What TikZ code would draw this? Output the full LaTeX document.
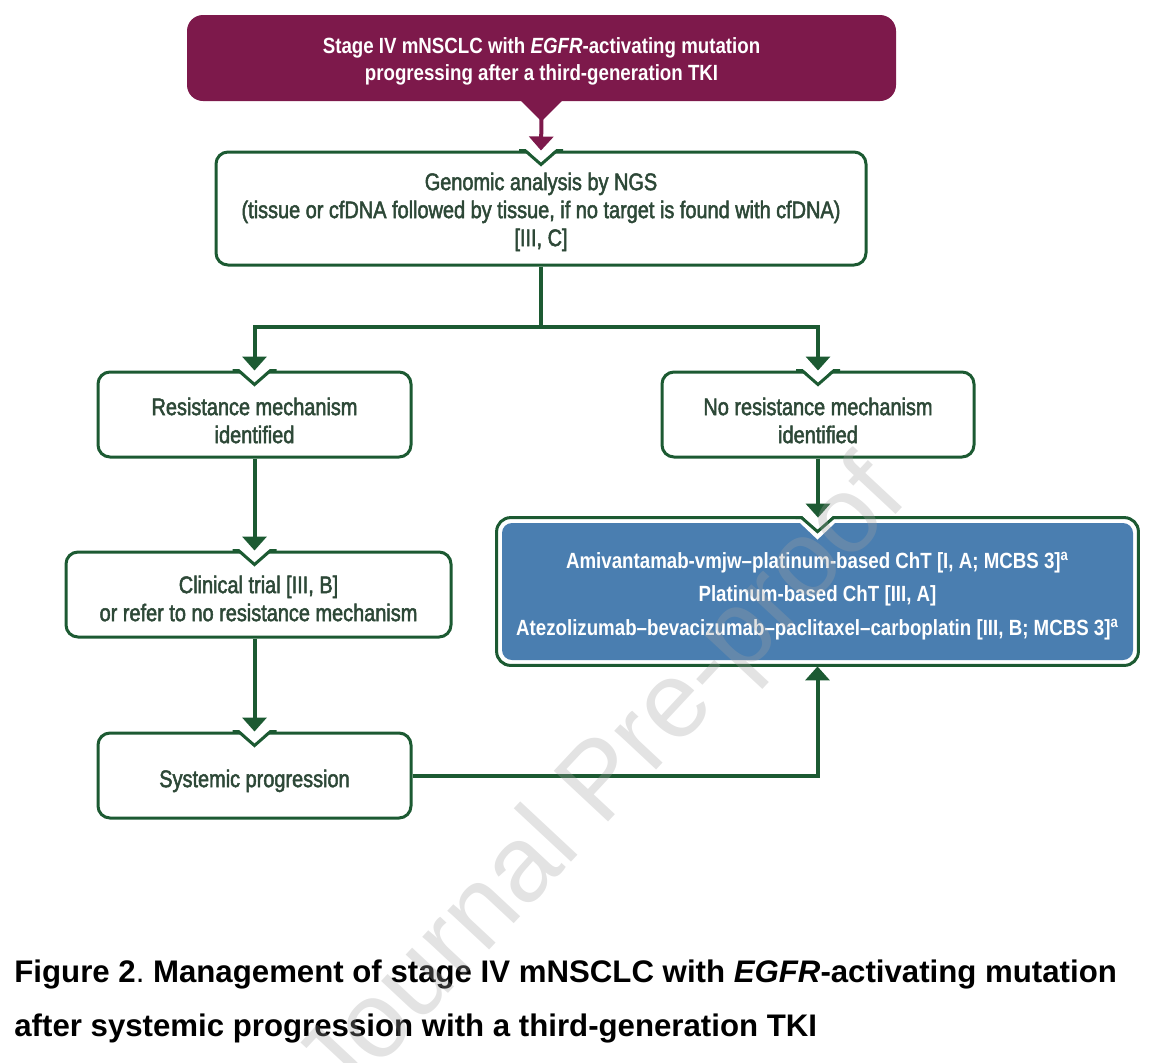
\documentclass[tikz,border=0pt]{standalone}
\usepackage{fontspec}
\setmainfont{Liberation Sans}
\newfontfamily\cond[FakeStretch=0.85]{Liberation Sans}
\newfontfamily\condm[FakeStretch=0.83,FakeBold=2]{Liberation Sans}
\usetikzlibrary{arrows.meta,calc}
\definecolor{gr}{RGB}{28,90,50}
\definecolor{mar}{RGB}{125,25,75}
\definecolor{blu}{RGB}{74,126,176}
\definecolor{txt}{RGB}{45,72,55}
\newcommand{\lines}[2][0pt]{\raisebox{-#1}[\height][\depth]{\begin{tabular}{@{}c@{}}#2\end{tabular}}}
\tikzset{
  wbox/.style={draw=gr, line width=1.5pt, fill=white, rounded corners=6pt, inner sep=0pt,
    align=center, text=txt, font=\condm\fontsize{12}{14}\selectfont},
  glink/.style={draw=gr, line width=2pt},
  arr/.style={glink, -{Triangle[width=12pt,length=7pt]}},
  marr/.style={draw=mar, line width=2pt, -{Triangle[width=12pt,length=7pt]}},
  wtext/.style={text=white, align=center, font=\cond\bfseries\fontsize{11}{13.5}\selectfont},
}
\newcommand{\mynotch}[1]{%
  \fill[white] ($(#1)+(-17,-3)$) -- ($(#1)+(17,-3)$) -- ($(#1)+(0,12)$) -- cycle;
  \draw[gr, line width=1.5pt, line join=miter] ($(#1)+(-22,0)$) -- ($(#1)+(-16,0)$) -- ($(#1)+(0,14)$) -- ($(#1)+(16,0)$) -- ($(#1)+(22,0)$);}
\begin{document}
\begin{tikzpicture}[x=0.5pt,y=-0.5pt]
\path[use as bounding box] (0,0) rectangle (1171,1062);

% top box
\node[fill=mar, rounded corners=8pt, minimum width=354.5pt, minimum height=43pt, inner sep=0pt, wtext] (top) at (541.5,58)
  {\lines[1.75pt]{Stage IV mNSCLC with \textit{EGFR}-activating mutation\\progressing after a third-generation TKI}};
\fill[mar] ($(top.south)+(-21,-1)$) -- ($(top.south)+(21,-1)$) -- ($(top.south)+(0,20)$) -- cycle;

% boxes
\node[wbox, minimum width=325pt, minimum height=56.5pt] (gen) at (541,208.5)
  {\lines[2pt]{Genomic analysis by NGS\\(tissue or cfDNA followed by tissue, if no target is found with cfDNA)\\{}[III, C]}};
\node[wbox, minimum width=156.5pt, minimum height=42.5pt] (res) at (254.5,414.5)
  {\lines[4.5pt]{Resistance mechanism\\identified}};
\node[wbox, minimum width=156pt, minimum height=42.5pt] (nores) at (818,414.5)
  {\lines[4.5pt]{No resistance mechanism\\identified}};
\node[wbox, minimum width=192.5pt, minimum height=42.5pt] (clin) at (258.5,594.5)
  {\lines[3.5pt]{Clinical trial [III, B]\\or refer to no resistance mechanism}};
\node[wbox, minimum width=156.5pt, minimum height=42.5pt] (sys) at (254.5,775.5)
  {\lines[3pt]{Systemic progression}};

% blue box
\node[fill=blu, rounded corners=5pt, minimum width=315.5pt, minimum height=68.5pt, inner sep=0pt, wtext,
  font=\cond\bfseries\fontsize{11}{16.8}\selectfont] (blue) at (817.5,591.5)
  {\lines[1.75pt]{Amivantamab-vmjw–platinum-based ChT [I, A; MCBS 3]\textsuperscript{a}\\Platinum-based ChT [III, A]\\Atezolizumab–bevacizumab–paclitaxel–carboplatin [III, B; MCBS 3]\textsuperscript{a}}};
\draw[gr, line width=1.5pt, rounded corners=7pt] ($(blue.north west)+(-5,-5)$) rectangle ($(blue.south east)+(5,5)$);
\coordinate (bt) at ($(blue.north)+(0,-5)$);
\coordinate (bb) at ($(blue.south)+(0,6)$);
\fill[white] ($(bt)+(-21,2)$) -- ($(bt)+(21,2)$) -- ($(bt)+(0,22)$) -- cycle;

% notches
\mynotch{gen.north}
\mynotch{res.north}
\mynotch{nores.north}
\coordinate (cn) at (res.south |- clin.north);
\mynotch{cn}
\coordinate (sn) at (res.south |- sys.north);
\mynotch{sn}
\mynotch{bt}

% connectors
\draw[marr] ($(top.south)+(0,15)$) -- (gen.north);
\coordinate (j) at ($(gen.south)+(0,60)$);
\draw[glink] (gen.south) -- (j);
\draw[arr] (j) -| (res.north);
\draw[arr] (j) -| (nores.north);
\draw[arr] (res.south) -- (cn);
\draw[arr] (nores.south) -- (nores.south |- bt);
\draw[arr] (clin.south -| res.south) -- (sn);
\draw[arr] (sys.east) -| (bb);

% caption
\node[anchor=base west, inner sep=0pt, font=\fontsize{15.6}{27}\selectfont] (cap1) at (14,982)
  {\bfseries Figure 2\mdseries.\bfseries\ Management of stage IV mNSCLC with \textit{EGFR}-activating mutation};
\node[anchor=base west, inner sep=0pt, font=\bfseries\fontsize{15.6}{27}\selectfont] (cap2) at (14,1036)
  {after systemic progression with a third-generation TKI};

% watermark
\node[rotate=47, text=black!37, opacity=0.3, inner sep=0pt, font=\fontsize{54}{60}\selectfont] (wm) at (605,785) {Journal Pre-proof};
\end{tikzpicture}
\end{document}
